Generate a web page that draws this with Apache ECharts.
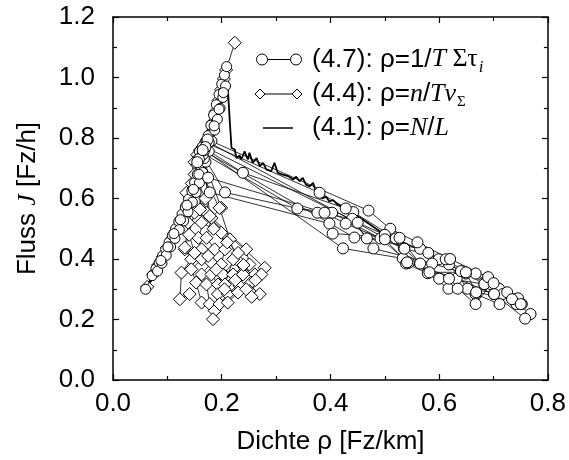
<!DOCTYPE html>
<html><head><meta charset="utf-8">
<script src="https://cdn.jsdelivr.net/npm/echarts/dist/echarts.min.js"></script>
<style>html,body{margin:0;padding:0;background:#fff}#c{width:569px;height:460px}</style>
</head><body><div id="c"></div>
<script>
// ---- data ----
const xTickLabels = ['0.0','0.2','0.4','0.6','0.8'];
const yTickLabels = ['0.0','0.2','0.4','0.6','0.8','1.0','1.2'];

// (4.1) rho = N/L : free branch + congested jagged curve
const lineFlow = [[0.062,0.305],[0.080,0.370],[0.100,0.440],[0.120,0.515],[0.140,0.598],[0.155,0.672],[0.168,0.755],[0.180,0.838],[0.192,0.920],[0.202,0.990],[0.209,1.030],[0.212,0.940],[0.215,0.850],[0.218,0.767],[0.224,0.762],[0.227,0.734],[0.233,0.742],[0.236,0.729],[0.242,0.756],[0.248,0.729],[0.251,0.751],[0.257,0.718],[0.264,0.734],[0.270,0.707],[0.276,0.718],[0.282,0.696],[0.291,0.690],[0.297,0.718],[0.303,0.685],[0.312,0.679],[0.322,0.674],[0.331,0.663],[0.337,0.672],[0.343,0.657],[0.349,0.668],[0.355,0.646],[0.362,0.640],[0.368,0.652],[0.374,0.618],[0.380,0.612],[0.385,0.600],[0.392,0.606],[0.398,0.590],[0.405,0.595],[0.413,0.580],[0.425,0.570],[0.440,0.553],[0.460,0.530],[0.480,0.505],[0.500,0.480]];
const lineFree2 = [[0.066,0.315],[0.085,0.380],[0.105,0.452],[0.125,0.530],[0.145,0.615],[0.160,0.695],[0.172,0.775],[0.184,0.860],[0.196,0.945],[0.206,1.010]];
const lineFree3 = [[0.070,0.325],[0.090,0.392],[0.110,0.466],[0.130,0.546],[0.149,0.630],[0.164,0.712],[0.176,0.795],[0.188,0.880],[0.199,0.962],[0.208,1.022]];
const lineFree4 = [[0.075,0.345],[0.095,0.412],[0.115,0.488],[0.135,0.570],[0.153,0.652],[0.167,0.735],[0.179,0.818],[0.191,0.902],[0.201,0.975]];

// (4.4) rho = n/T v_Sigma : diamonds
const diamondFree = [[0.063,0.308],[0.074,0.350],[0.083,0.380],[0.092,0.408],[0.100,0.438],[0.108,0.466],[0.116,0.494],[0.124,0.524],[0.132,0.556],[0.139,0.586],[0.146,0.618],[0.152,0.648],[0.158,0.680],[0.164,0.714],[0.169,0.748],[0.174,0.782],[0.179,0.816],[0.184,0.852],[0.189,0.888],[0.194,0.924],[0.199,0.960],[0.204,0.995],[0.208,1.025],[0.224,1.115]];
const diamondA = [[0.155,0.745],[0.158,0.685],[0.135,0.619],[0.150,0.553],[0.132,0.432],[0.144,0.399],[0.126,0.355],[0.123,0.267],[0.141,0.284]];
const diamondB = [[0.150,0.720],[0.163,0.564],[0.172,0.553],[0.157,0.470],[0.163,0.432],[0.163,0.399],[0.144,0.366],[0.153,0.322],[0.163,0.256]];
const diamondC = [[0.160,0.760],[0.199,0.569],[0.181,0.536],[0.172,0.470],[0.187,0.432],[0.181,0.388],[0.163,0.349],[0.172,0.316],[0.178,0.251],[0.187,0.229]];
const diamondD = [[0.162,0.740],[0.138,0.520],[0.163,0.520],[0.199,0.487],[0.206,0.432],[0.199,0.382],[0.181,0.349],[0.193,0.316],[0.193,0.284],[0.184,0.201]];
const diamondE = [[0.158,0.700],[0.196,0.569],[0.215,0.465],[0.227,0.399],[0.202,0.349],[0.215,0.311],[0.211,0.284],[0.196,0.251]];
const diamondF = [[0.165,0.770],[0.178,0.542],[0.245,0.432],[0.251,0.382],[0.239,0.355],[0.233,0.311],[0.230,0.289],[0.211,0.256]];
const diamondG = [[0.160,0.730],[0.160,0.564],[0.279,0.371],[0.261,0.349],[0.273,0.349],[0.254,0.322],[0.251,0.294],[0.270,0.284]];
const diamondH = [[0.155,0.710],[0.132,0.438],[0.221,0.349],[0.239,0.349],[0.221,0.399],[0.206,0.316]];
const diamondI = [[0.145,0.650],[0.140,0.480],[0.150,0.420],[0.175,0.410],[0.190,0.365],[0.205,0.300],[0.225,0.330],[0.245,0.300]];
const diamondJ = [[0.150,0.680],[0.170,0.600],[0.185,0.500],[0.210,0.455],[0.230,0.420],[0.240,0.380],[0.262,0.330],[0.255,0.275]];

// (4.7) rho = 1/T Sum tau_i : circles
const circleFreeA = [[0.060,0.300],[0.072,0.345],[0.079,0.368],[0.085,0.388],[0.091,0.410],[0.097,0.432],[0.103,0.455],[0.109,0.478],[0.115,0.500],[0.121,0.524],[0.127,0.548],[0.133,0.572],[0.139,0.598],[0.145,0.625],[0.150,0.652],[0.155,0.680],[0.160,0.710],[0.165,0.742],[0.170,0.775],[0.175,0.808],[0.180,0.842],[0.185,0.876],[0.190,0.910],[0.195,0.944],[0.200,0.978],[0.205,1.008],[0.209,1.036]];
const circleFreeB = [[0.082,0.360],[0.090,0.386],[0.098,0.412],[0.106,0.440],[0.114,0.468],[0.122,0.497],[0.130,0.526],[0.138,0.556],[0.146,0.588],[0.153,0.620],[0.159,0.652],[0.165,0.686],[0.171,0.720],[0.177,0.756],[0.182,0.790],[0.187,0.826],[0.192,0.862],[0.197,0.898],[0.202,0.934],[0.207,0.972]];
const circleFreeC = [[0.088,0.395],[0.101,0.440],[0.112,0.484],[0.124,0.530],[0.136,0.578],[0.148,0.630],[0.158,0.680],[0.168,0.732],[0.177,0.786],[0.186,0.840],[0.195,0.895],[0.203,0.950]];
const circleA = [[0.170,0.785],[0.380,0.619],[0.442,0.555],[0.520,0.468],[0.599,0.399],[0.667,0.352],[0.735,0.267],[0.768,0.218]];
const circleB = [[0.165,0.770],[0.239,0.685],[0.428,0.567],[0.467,0.468],[0.565,0.434],[0.618,0.382],[0.683,0.317],[0.742,0.251]];
const circleC = [[0.160,0.755],[0.339,0.567],[0.403,0.553],[0.492,0.468],[0.544,0.388],[0.632,0.335],[0.701,0.284],[0.758,0.203]];
const circleD = [[0.165,0.745],[0.206,0.620],[0.376,0.553],[0.440,0.533],[0.479,0.435],[0.587,0.385],[0.649,0.352],[0.710,0.302],[0.752,0.251]];
const circleE = [[0.158,0.730],[0.175,0.669],[0.389,0.553],[0.428,0.517],[0.535,0.435],[0.612,0.399],[0.652,0.302],[0.717,0.284]];
const circleF = [[0.155,0.720],[0.178,0.620],[0.398,0.517],[0.404,0.484],[0.527,0.470],[0.579,0.353],[0.617,0.302],[0.667,0.284],[0.711,0.251]];
const circleG = [[0.168,0.760],[0.423,0.435],[0.533,0.402],[0.539,0.385],[0.600,0.335],[0.634,0.302],[0.667,0.251],[0.695,0.317]];
const circleH = [[0.172,0.790],[0.536,0.434],[0.565,0.385],[0.544,0.388],[0.618,0.335],[0.683,0.317],[0.701,0.284]];
const circleI = [[0.174,0.795],[0.470,0.560],[0.510,0.500],[0.560,0.455],[0.620,0.400],[0.690,0.340],[0.745,0.270]];
const circleJ = [[0.170,0.770],[0.450,0.520],[0.500,0.480],[0.580,0.420],[0.640,0.360],[0.700,0.320],[0.725,0.290]];
const circleK = [[0.165,0.760],[0.444,0.471],[0.500,0.465],[0.541,0.389],[0.582,0.356],[0.649,0.356],[0.668,0.290],[0.734,0.267],[0.750,0.251]];

// ---- chart ----
const chart = echarts.init(document.getElementById('c'), null, {renderer:'canvas'});
const FONT = 'Liberation Sans';
const SERIF = 'Liberation Serif';

function lineSer(data, width, z){
  return {type:'line', data:data, symbol:'none', showSymbol:false, z:z,
    lineStyle:{color:'#000', width:width}, silent:true, animation:false};
}
function markSer(data, sym, size, z){
  return {type:'line', data:data, symbol:sym, symbolSize:size, showSymbol:true, showAllSymbol:true, z:z,
    lineStyle:{color:'#000', width:0.8},
    itemStyle:{color:'#fff', borderColor:'#000', borderWidth:1},
    silent:true, animation:false};
}

const series = [];
[lineFlow].forEach(d=>series.push(lineSer(d,1.8,2)));
[lineFree2,lineFree3,lineFree4].forEach(d=>series.push(lineSer(d,1.3,2)));
[diamondFree,diamondA,diamondB,diamondC,diamondD,diamondE,diamondF,diamondG,diamondH,diamondI,diamondJ].forEach(d=>series.push(markSer(d,'diamond',13,3)));
[circleFreeA,circleFreeB,circleFreeC].forEach(d=>series.push(markSer(d,'circle',10,4)));
[circleA,circleB,circleC,circleD,circleE,circleF,circleG,circleH,circleI,circleJ,circleK].forEach(d=>series.push(markSer(d,'circle',11,4)));

const tickLabel = {fontSize:26, color:'#000', fontFamily:FONT};
function xAx(pos, show){
  return {type:'value', min:0, max:0.8, interval:0.2, position:pos,
    axisLine:{show:true, onZero:false, lineStyle:{color:'#000', width:1.5}},
    axisTick:{show:true, inside:true, length:6, lineStyle:{color:'#000', width:1.2}},
    minorTick:{show:true, splitNumber:2, length:4, lineStyle:{color:'#000', width:1.2}},
    splitLine:{show:false},
    axisLabel:Object.assign({show:show, margin:11, formatter:(v)=>xTickLabels[Math.round(v/0.2)]}, tickLabel),
    name: show ? 'Dichte ρ [Fz/km]' : '', nameLocation:'middle', nameGap:49,
    nameTextStyle:{fontSize:26, color:'#000', fontFamily:FONT}};
}
function yAx(pos, show){
  return {type:'value', min:0, max:1.2, interval:0.2, position:pos,
    axisLine:{show:true, onZero:false, lineStyle:{color:'#000', width:1.5}},
    axisTick:{show:true, inside:true, length:6, lineStyle:{color:'#000', width:1.2}},
    minorTick:{show:true, splitNumber:2, length:4, lineStyle:{color:'#000', width:1.2}},
    splitLine:{show:false},
    axisLabel:Object.assign({show:show, margin:18, formatter:(v)=>yTickLabels[Math.round(v/0.2)]}, tickLabel),
    name: show ? '{a|Fluss }{i|J}{a| [Fz/h]}' : '', nameLocation:'middle', nameGap:72,
    nameTextStyle:{color:'#000', rich:{a:{fontSize:26, fontFamily:FONT, color:'#000'}, i:{fontSize:26, fontFamily:SERIF, fontStyle:'italic', color:'#000'}}}};
}

// legend built as graphic (symbols at both ends of the sample line)
const legY = [59.5, 94, 128];
const legText = [
  '{a|(4.7): ρ=1/}{it|T}{s| Στ}{sub|i}',
  '{a|(4.4): ρ=}{it|n}{a|/}{it|Tv}{sub2|Σ}',
  '{a|(4.1): ρ=}{it|N}{a|/}{it|L}'
];
const rich = {
  a:{fontSize:26, fontFamily:FONT, fill:'#000', color:'#000'},
  it:{fontSize:26, fontFamily:SERIF, fontStyle:'italic', fill:'#000', color:'#000'},
  s:{fontSize:26, fontFamily:SERIF, fill:'#000', color:'#000'},
  sub:{fontSize:17, fontFamily:SERIF, fontStyle:'italic', padding:[16,0,0,1], fill:'#000', color:'#000'},
  sub2:{fontSize:15, fontFamily:SERIF, padding:[16,0,0,1], fill:'#000', color:'#000'}
};
function diamondPts(cx, cy, r){ return [[cx,cy-r],[cx+r,cy],[cx,cy+r],[cx-r,cy]]; }
const graphic = [
  {type:'line', shape:{x1:262,y1:legY[0],x2:296,y2:legY[0]}, style:{stroke:'#000', lineWidth:1}},
  {type:'circle', shape:{cx:262,cy:legY[0],r:5.5}, style:{fill:'#fff', stroke:'#000', lineWidth:1}},
  {type:'circle', shape:{cx:296,cy:legY[0],r:5.5}, style:{fill:'#fff', stroke:'#000', lineWidth:1}},
  {type:'line', shape:{x1:260,y1:legY[1],x2:297,y2:legY[1]}, style:{stroke:'#000', lineWidth:1}},
  {type:'polygon', shape:{points:diamondPts(260,legY[1],5)}, style:{fill:'#fff', stroke:'#000', lineWidth:1}},
  {type:'polygon', shape:{points:diamondPts(297,legY[1],5)}, style:{fill:'#fff', stroke:'#000', lineWidth:1}},
  {type:'line', shape:{x1:263,y1:legY[2],x2:293,y2:legY[2]}, style:{stroke:'#000', lineWidth:1.5}}
];
legText.forEach((t,i)=>{
  graphic.push({type:'text', x:312, y:legY[i], style:{text:t, rich:rich, verticalAlign:'middle', textVerticalAlign:'middle', align:'left', fill:'#000'}});
});

chart.setOption({
  backgroundColor:'#fff',
  animation:false,
  grid:{left:113, right:20, top:17, bottom:79, containLabel:false},
  xAxis:[xAx('bottom', true), xAx('top', false)],
  yAxis:[yAx('left', true), yAx('right', false)],
  series:series,
  graphic:graphic
});
</script></body></html>
